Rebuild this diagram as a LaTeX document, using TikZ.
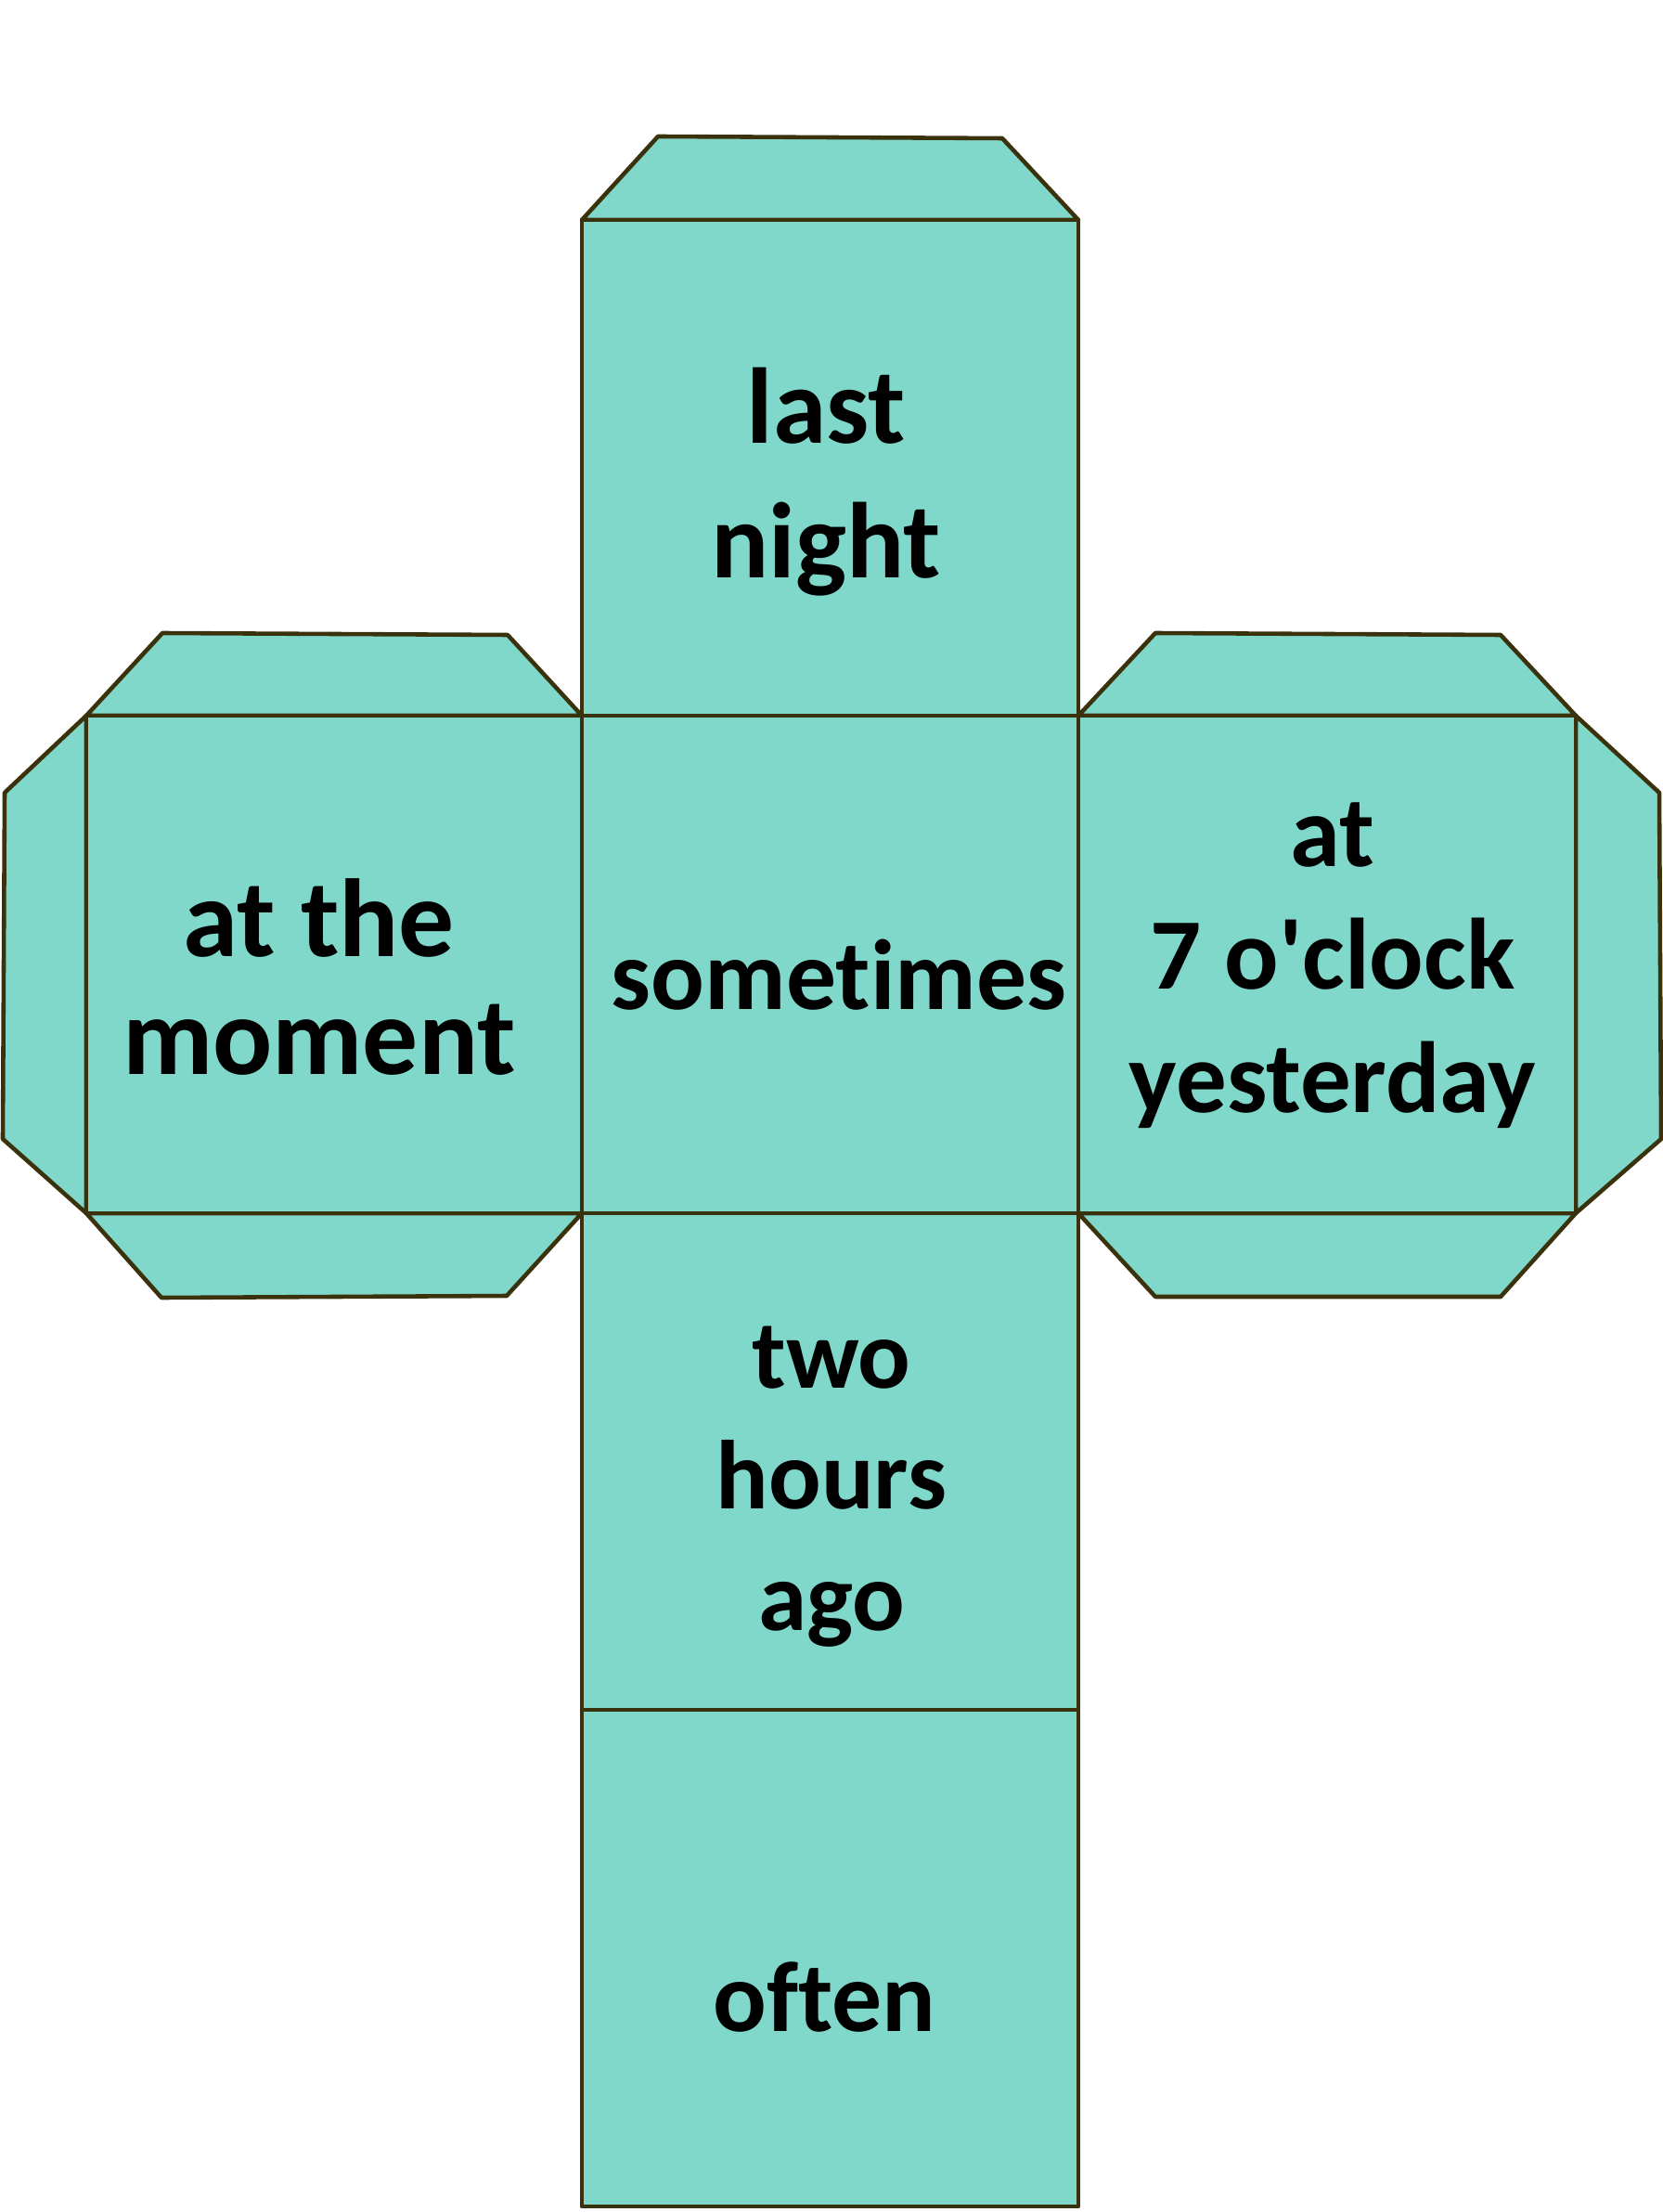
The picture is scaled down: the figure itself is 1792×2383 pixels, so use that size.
\documentclass[tikz,border=0pt]{standalone}
\usepackage{fontspec}
\setmainfont{Carlito}[Ligatures = {NoCommon}]

\definecolor{netfill}{RGB}{128,216,203}
\definecolor{netline}{RGB}{58,50,12}

\begin{document}
\begin{tikzpicture}[x = 0.01cm, y = -0.01cm,
	flap/.style = {fill = netfill, draw = netline, line width = 1.3pt, line join = round},
	face/.style = {flap},
	word/.style 2 args = {font = \bfseries\fontsize{#1}{#2}\selectfont, align = center, anchor = base}]

	\useasboundingbox (0, 0) rectangle (1792, 2383);

	% Tabs

	\filldraw [flap] (627, 237) -- (709, 147) -- (1080, 149) -- (1162, 237) -- cycle;
	\filldraw [flap] (93, 771) -- (175, 682) -- (547, 684) -- (627, 771) -- cycle;
	\filldraw [flap] (93, 771) -- (5, 854) -- (3, 1227) -- (93, 1307) -- cycle;
	\filldraw [flap] (93, 1307) -- (174, 1398) -- (546, 1396) -- (627, 1307) -- cycle;
	\filldraw [flap] (1162, 771) -- (1245, 682) -- (1617, 684) -- (1698, 771) -- cycle;
	\filldraw [flap] (1698, 771) -- (1788, 854) -- (1790, 1227) -- (1698, 1307) -- cycle;
	\filldraw [flap] (1162, 1307) -- (1245, 1397) -- (1617, 1397) -- (1698, 1307) -- cycle;

	% Faces

	\filldraw [face] (627, 237) rectangle (1162, 771);
	\filldraw [face] (93, 771) rectangle (627, 1307);
	\filldraw [face] (627, 771) rectangle (1162, 1307);
	\filldraw [face] (1162, 771) rectangle (1698, 1307);
	\filldraw [face] (627, 1307) rectangle (1162, 1842);
	\filldraw [face] (627, 1842) rectangle (1162, 2377);

	% Words (anchored at the baseline of the last line)

	\node [word = {33}{41.5}] (lastnight) at (890, 623) {last\\night};
	\node [word = {34}{35.9}] (atmoment) at (344, 1157) {at the\\moment};
	\node [word = {30.6}{30}] (sometimes) at (904, 1087) {sometimes};
	\node [word = {31}{37.6}] (atseven) at (1436, 1198) {at\\7 o\textquotesingle clock\\yesterday};
	\node [word = {30}{37}] (twohours) at (896, 1756) {two\\hours\\ago};
	\node [word = {30.6}{30}] (often) at (888, 2188) {often};

\end{tikzpicture}
\end{document}
